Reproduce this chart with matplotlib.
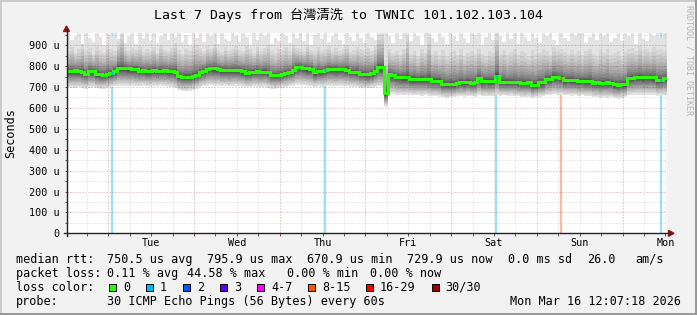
import matplotlib
matplotlib.use('Agg')
import numpy as np
import matplotlib.pyplot as plt
from matplotlib.patches import Rectangle, Polygon
from matplotlib.lines import Line2D
from matplotlib.transforms import blended_transform_factory

# ── Data (microseconds, one value per hour, oldest first) ────────────────────
T0 = -11.7          # left edge, hours relative to Tue 00:00
MEDIAN = [
    778, 776, 780, 777, 772, 764, 777, 776, 762, 760, 759, 761,
    765, 777, 793, 792, 790, 789, 788, 786, 778, 779, 777, 778,
    780, 778, 777, 779, 778, 776, 771, 753, 749, 748, 750, 752,
    758, 770, 778, 787, 790, 789, 788, 782, 781, 780, 781, 779,
    780, 778, 769, 770, 774, 775, 773, 774, 770, 758, 756, 757,
    762, 766, 772, 780, 795, 796, 793, 789, 788, 771, 777, 776,
    779, 785, 786, 784, 785, 784, 783, 774, 773, 772, 763, 762,
    760, 765, 777, 795, 796, 671, 760, 758, 749, 747, 746, 747,
    740, 738, 737, 739, 738, 736, 731, 730, 731, 716, 714, 715,
    713, 718, 723, 722, 724, 721, 723, 742, 729, 730, 728, 729,
    755, 725, 726, 724, 725, 726, 723, 721, 720, 722, 710, 711,
    723, 722, 738, 740, 750, 748, 745, 734, 735, 733, 732, 729,
    730, 728, 729, 721, 722, 720, 721, 722, 719, 713, 712, 714,
    713, 742, 744, 747, 748, 746, 747, 748, 746, 734, 735, 742,
]
P_LO = [
    700, 697, 695, 698, 694, 692, 697, 699, 693, 690, 692, 695,
    700, 704, 706, 705, 707, 704, 706, 703, 705, 706, 704, 702,
    705, 703, 706, 704, 702, 700, 694, 684, 681, 680, 683, 686,
    692, 700, 703, 706, 708, 705, 706, 704, 706, 703, 705, 707,
    704, 702, 698, 700, 703, 701, 700, 702, 696, 692, 690, 693,
    697, 700, 704, 706, 710, 712, 709, 706, 704, 700, 703, 702,
    705, 707, 706, 704, 707, 705, 703, 701, 700, 698, 695, 694,
    694, 697, 700, 703, 701, 606, 672, 668, 664, 662, 660, 662,
    661, 660, 662, 659, 661, 658, 655, 656, 653, 650, 648, 650,
    652, 655, 656, 654, 657, 655, 653, 660, 656, 657, 655, 658,
    660, 658, 660, 657, 659, 656, 655, 652, 651, 653, 648, 650,
    654, 656, 660, 662, 665, 663, 662, 660, 661, 659, 660, 658,
    660, 658, 657, 652, 650, 648, 651, 649, 650, 646, 645, 648,
    650, 660, 662, 664, 663, 661, 662, 664, 663, 658, 660, 662,
]
P_HI = [
    872, 890, 865, 880, 905, 870, 885, 860, 895, 875, 868, 900,
    880, 870, 915, 955, 890, 870, 885, 875, 895, 868, 880, 872,
    890, 865, 900, 878, 870, 885, 910, 875, 860, 880, 870, 895,
    900, 885, 870, 895, 880, 905, 875, 868, 890, 872, 880, 898,
    875, 870, 895, 880, 865, 890, 872, 885, 900, 870, 862, 880,
    875, 890, 870, 905, 885, 880, 870, 900, 878, 870, 890, 872,
    880, 895, 870, 885, 872, 880, 900, 868, 875, 890, 880, 870,
    885, 872, 895, 950, 955, 830, 880, 862, 870, 855, 880, 945,
    860, 872, 850, 880, 865, 940, 858, 870, 852, 875, 848, 862,
    870, 855, 880, 850, 865, 872, 858, 882, 860, 848, 870, 865,
    957, 860, 875, 852, 868, 880, 855, 870, 862, 848, 876, 858,
    865, 880, 870, 855, 890, 872, 880, 868, 858, 875, 860, 870,
    852, 870, 882, 860, 848, 875, 865, 880, 855, 862, 870, 850,
    868, 880, 885, 872, 895, 870, 882, 868, 890, 875, 880, 870,
]
P_MAX = [
    960, 925, 945, 960, 905, 960, 935, 915, 960, 940, 900, 960,
    950, 960, 930, 960, 910, 945, 960, 905, 960, 935, 960, 920,
    960, 910, 945, 960, 925, 960, 940, 960, 915, 950, 900, 960,
    935, 960, 915, 960, 945, 960, 905, 960, 930, 920, 960, 945,
    915, 960, 940, 900, 960, 925, 960, 945, 960, 905, 935, 920,
    960, 945, 910, 960, 935, 960, 920, 960, 900, 950, 960, 930,
    960, 915, 945, 960, 925, 905, 960, 940, 920, 960, 935, 910,
    960, 940, 925, 960, 960, 960, 945, 910, 960, 930, 960, 960,
    920, 960, 945, 900, 960, 960, 935, 915, 960, 940, 905, 960,
    945, 920, 960, 935, 910, 960, 950, 960, 900, 940, 960, 925,
    960, 945, 915, 960, 930, 960, 905, 960, 940, 920, 960, 935,
    910, 960, 945, 960, 925, 900, 960, 935, 920, 960, 945, 960,
    960, 910, 940, 960, 925, 960, 945, 960, 915, 935, 960, 920,
    960, 945, 960, 905, 960, 930, 920, 960, 945, 960, 935, 960,
]
LOSS_T = [1.0, 60.7, 108.6, 126.8, 154.8]   # hours with lost pings
LOSS_N = [1, 1, 1, 9, 1]
DAYS = ["Tue", "Wed", "Thu", "Fri", "Sat", "Sun", "Mon"]
YTICKS = [0, 100, 200, 300, 400, 500, 600, 700, 800, 900]
YLABELS = ["0", "100 u", "200 u", "300 u", "400 u", "500 u",
           "600 u", "700 u", "800 u", "900 u"]
LOSS_LABELS = ["0", "1", "2", "3", "4-7", "8-15", "16-29", "30/30"]
LOSS_COLORS = ["#26ff00", "#00b8ff", "#0059ff", "#5e00ff",
               "#ff00ff", "#ff5500", "#ff0000", "#a00000"]
TITLE = "Last 7 Days from 台灣清洗 to TWNIC 101.102.103.104"
# ─────────────────────────────────────────────────────────────────────────────

W, H = 697, 315
MONO = "DejaVu Sans Mono"


def fx(x):
    return x / W


def fy(y):
    return 1 - y / H


def loss_color(n):
    for lim, c in zip([0, 1, 2, 3, 7, 15, 29, 30], LOSS_COLORS):
        if n <= lim:
            return c
    return LOSS_COLORS[-1]


fig = plt.figure(figsize=(W / 100, H / 100), dpi=100, facecolor="#f2f2f2")
ax = fig.add_axes([fx(66.5), fy(233.3), 600 / W, 200 / H])
ax.set_facecolor("white")
ax.set_xlim(T0, T0 + len(MEDIAN))
ax.set_ylim(0, 957)

# loss bars behind the smoke
for t, n in zip(LOSS_T, LOSS_N):
    ax.axvline(t, color=loss_color(n), alpha=0.4, lw=1.6, zorder=1)

# smoke: 15 bands, outermost lightest
n = len(MEDIAN)
edges = T0 + np.arange(n + 1)
xs = np.repeat(edges, 2)[1:-1]
med = np.array(MEDIAN, float)
lo_all = np.array(P_LO, float)
hi_all = np.array(P_HI, float)
half = 15
for i in range(1, half + 1):
    g = int(190 / half * (half - i)) + 50
    col = "#%02x%02x%02x" % (g, g, g)
    if i == 1:
        up = np.array(P_MAX, float)
    else:
        up = med + (hi_all - med) * ((16 - i) / 14) ** 2.3
    lo = med - (med - lo_all) * ((16 - i) / 15) ** 1.3
    ax.fill_between(xs, np.repeat(lo, 2), np.repeat(up, 2),
                    color=col, lw=0, zorder=2)

# grid on top
for v in range(50, 957, 50):
    major = v % 100 == 0
    ax.axhline(v, color="#821e1e" if major else "#8c8c8c",
               alpha=0.4 if major else 0.35, lw=0.72, dashes=(1, 2), zorder=4)
for t in range(-6, 157, 6):
    major = t % 24 == 0
    ax.axvline(t, color="#821e1e" if major else "#8c8c8c",
               alpha=0.4 if major else 0.35, lw=0.72, dashes=(1, 2), zorder=4)

# median line coloured by loss
ax.plot(xs, np.repeat(med, 2), color=LOSS_COLORS[0], lw=2.2, zorder=5,
        solid_joinstyle="miter")
for t, nl in zip(LOSS_T, LOSS_N):
    v = MEDIAN[int(t - T0)]
    ax.hlines(v, t - 0.3, t + 0.3, color=loss_color(nl), lw=2.2, zorder=6)

# ticks and labels
ax.set_yticks(YTICKS)
ax.set_yticklabels(YLABELS, family=MONO, fontsize=7.3)
ax.set_yticks(range(50, 957, 100), minor=True)
ax.set_xticks(range(0, 145, 24))
ax.set_xticks([t for t in range(-6, 157, 6) if t % 24], minor=True)
ax.set_xticklabels([])
ax.tick_params(which="both", direction="out", length=1.8, width=0.7,
               color="#555555", pad=3.4)
for s in ax.spines.values():
    s.set_visible(False)

tr = blended_transform_factory(ax.transData, ax.transAxes)
for k, d in enumerate(DAYS):
    ax.text(12 + 24 * k, -0.066, d, transform=tr, ha="center", va="baseline",
            family=MONO, fontsize=7.3)

# axes with arrows
fig.add_artist(Line2D([fx(66.5), fx(66.5)], [fy(236), fy(29)],
                      color="#222222", lw=1.0))
fig.add_artist(Line2D([fx(63.5), fx(670)], [fy(233.3), fy(233.3)],
                      color="#222222", lw=1.0))
fig.add_artist(Polygon([[fx(63.5), fy(31.5)], [fx(69.5), fy(31.5)],
                        [fx(66.5), fy(26)]], closed=True, color="#901818"))
fig.add_artist(Polygon([[fx(668.5), fy(230.3)], [fx(668.5), fy(236.3)],
                        [fx(674), fy(233.3)]], closed=True, color="#901818"))

# titles
fig.text(fx(348), fy(19), TITLE, ha="center", va="baseline", fontsize=9.5,
         family=[MONO, "Noto Sans CJK TC"])
fig.text(fx(11), fy(133), "Seconds", rotation=90, ha="center", va="center",
         family=MONO, fontsize=8.5)
fig.text(fx(689), fy(5), "RRDTOOL / TOBI OETIKER", rotation=270, ha="center",
         va="top", family=MONO, fontsize=6, color="#b4b4b4")

# legend
LEG = dict(va="baseline", ha="left", family=MONO, fontsize=8.5)
line1 = [(16, "median rtt:"), (107.3, "750.5 us avg"), (207.3, "795.9 us max"),
         (306.7, "670.9 us min"), (407.3, "729.9 us now"), (508.3, "0.0 ms sd"),
         (586.7, "26.0"), (635, "am/s")]
line2 = [(16, "packet loss:"), (107.3, "0.11 % avg"), (187, "44.58 % max"),
         (287, "0.00 % min"), (370, "0.00 % now")]
for x, s in line1:
    fig.text(fx(x), fy(263), s, **LEG)
for x, s in line2:
    fig.text(fx(x), fy(277), s, **LEG)
fig.text(fx(16), fy(291), "loss color:", **LEG)
sq_x = [109, 146, 183, 220, 257, 308, 366, 431.5]
for x, lab, c in zip(sq_x, LOSS_LABELS, LOSS_COLORS):
    fig.add_artist(Rectangle((fx(x), fy(291)), 7 / W, 7 / H, facecolor=c,
                             edgecolor="black", lw=0.7))
    fig.text(fx(x + 14), fy(291), lab, **LEG)
fig.text(fx(16), fy(305), "probe:", **LEG)
fig.text(fx(107.3), fy(305), "30 ICMP Echo Pings (56 Bytes) every 60s", **LEG)
fig.text(fx(681), fy(305), "Mon Mar 16 12:07:18 2026",
         **{**LEG, "ha": "right"})

# 3d border
fig.add_artist(Rectangle((0, fy(2)), 1, 2 / H, color="#cbcbcb", lw=0))
fig.add_artist(Rectangle((0, 0), 2 / W, 1, color="#cbcbcb", lw=0))
fig.add_artist(Rectangle((0, 0), 1, 2 / H, color="#999999", lw=0))
fig.add_artist(Rectangle((fx(695), 0), 2 / W, 1, color="#999999", lw=0))

fig.savefig("out.png", dpi=100, facecolor=fig.get_facecolor())
